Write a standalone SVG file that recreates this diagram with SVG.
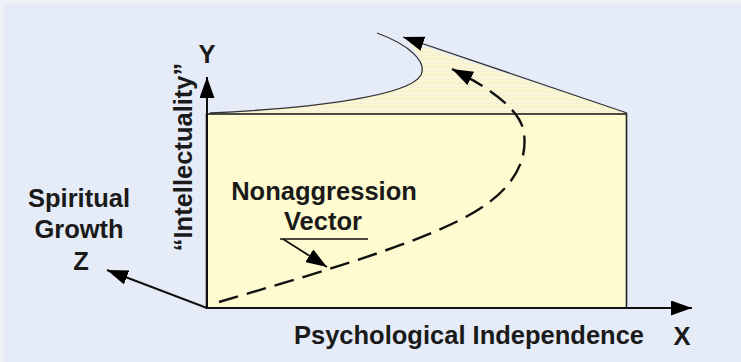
<svg xmlns="http://www.w3.org/2000/svg" width="741" height="362" viewBox="0 0 741 362">
  <defs>
    <style>
      .lbl { font-family: "Liberation Sans", Arial, sans-serif; font-weight: bold; font-size: 25.5px; fill: #1a1a1a; }
      .axis { stroke: #111; stroke-width: 2; fill: none; }
      .thin { stroke: #333; stroke-width: 1.3; fill: none; }
    </style>
    <marker id="ah" viewBox="0 0 21 15" markerWidth="21" markerHeight="15" markerUnits="userSpaceOnUse" refX="21" refY="7.5" orient="auto">
      <path d="M0,0 L21,7.5 L0,15 Z" fill="#000"/>
    </marker>
    <pattern id="stripes" width="8" height="4" patternUnits="userSpaceOnUse">
      <rect width="8" height="4" fill="#FBF6CF"/>
      <rect y="3" width="8" height="1" fill="#F1F0DE"/>
    </pattern>
  </defs>

  <rect x="0" y="0" width="741" height="362" fill="#EEF1F8"/>
  <rect x="4" y="4" width="737" height="358" fill="#E6ECF7"/>

  <g id="upper-plane">
    <path d="M210,113 C320,108 410,95 421,75 C425,65 418,52 407,41 L627,113 Z" fill="url(#stripes)"/>
    <path class="thin" d="M210,113 C320,108 410,95 421,75 C427,62 410,45 377,33"/>
  </g>

  <g id="plane">
    <rect x="206.5" y="114" width="420" height="194" fill="#FFFBD0" stroke="#222" stroke-width="1.6"/>
  </g>

  <g id="connectors">
    <line class="axis" x1="207" y1="308" x2="207" y2="77" marker-end="url(#ah)"/>
    <line class="axis" x1="206" y1="308" x2="692" y2="308" marker-end="url(#ah)"/>
    <line class="axis" x1="207" y1="308" x2="107" y2="270" marker-end="url(#ah)"/>
    <line class="thin" x1="627" y1="113" x2="403" y2="37" stroke="#222" marker-end="url(#ah)"/>
    <path d="M219,302 C300,278 400,250 460,220 C510,195 528,165 524,133 C521,110 490,88 452,69" fill="none" stroke="#111" stroke-width="2.4" stroke-dasharray="20,9" marker-end="url(#ah)"/>
    <line x1="280" y1="239" x2="368" y2="239" stroke="#111" stroke-width="1.6"/>
    <line x1="283" y1="239" x2="327" y2="267" stroke="#111" stroke-width="1.8" marker-end="url(#ah)"/>
  </g>

  <g id="labels">
    <text class="lbl" x="207" y="63" text-anchor="middle">Y</text>
    <text class="lbl" x="682" y="345" text-anchor="middle">X</text>
    <text class="lbl" x="81" y="270" text-anchor="middle">Z</text>
    <text class="lbl" x="79" y="207" text-anchor="middle">Spiritual</text>
    <text class="lbl" x="79" y="238" text-anchor="middle">Growth</text>
    <text class="lbl" x="469" y="344" text-anchor="middle">Psychological Independence</text>
    <text class="lbl" x="324" y="200" text-anchor="middle">Nonaggression</text>
    <text class="lbl" x="323" y="230" text-anchor="middle">Vector</text>
    <text class="lbl" transform="translate(192,157) rotate(-90)" text-anchor="middle">“Intellectuality”</text>
  </g>
</svg>
